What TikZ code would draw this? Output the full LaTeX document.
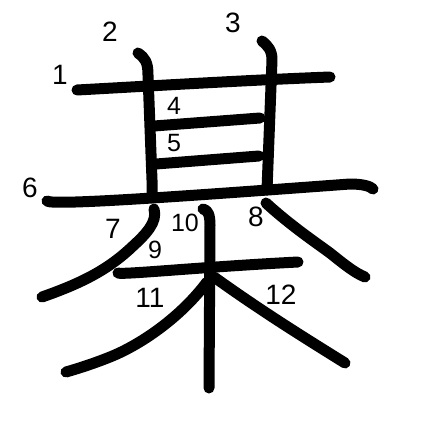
\documentclass[tikz,border=0pt]{standalone}
\usepackage{fontspec}
\setmainfont{Liberation Sans}
\begin{document}
\begin{tikzpicture}[x=1pt,y=-1pt,
  stroke/.style={line width=11pt,line cap=round,line join=round},
  num/.style={inner sep=0pt,font=\fontsize{28}{28}\selectfont},
  snum/.style={inner sep=0pt,font=\fontsize{25}{25}\selectfont}]
\useasboundingbox[fill=white] (0,0) rectangle (447,447);
% stroke coordinates
\coordinate (s1a) at (77,90);  \coordinate (s1b) at (330,77);
\coordinate (s2a) at (138,53); \coordinate (s2b) at (152,196);
\coordinate (s3a) at (262,41); \coordinate (s3b) at (267,190);
\coordinate (s4a) at (154,126); \coordinate (s4b) at (260,118);
\coordinate (s5a) at (156,164); \coordinate (s5b) at (259,156);
\coordinate (s6a) at (47,201); \coordinate (s6b) at (373,189);
\coordinate (s7a) at (154,209); \coordinate (s7b) at (42,297);
\coordinate (s8a) at (266,203); \coordinate (s8b) at (365,277);
\coordinate (s9a) at (118,273); \coordinate (s9b) at (298,262);
\coordinate (s10a) at (203,209); \coordinate (s10b) at (209,388);
\coordinate (s11a) at (207,282); \coordinate (s11b) at (66,372);
\coordinate (s12a) at (214,277); \coordinate (s12b) at (345,363);
% strokes
\draw[stroke] (s1a) .. controls (150,86) and (250,80) .. (s1b);
\draw[stroke] (s2a) .. controls (145,58) and (148,62) .. (148,75) -- (152,180) -- (s2b);
\draw[stroke] (s3a) .. controls (268,46) and (272,50) .. (272,60) -- (s3b);
\draw[stroke] (s4a) -- (s4b);
\draw[stroke] (s5a) -- (s5b);
\draw[stroke] (s6a) .. controls (52,206) and (200,195) .. (350,184) .. controls (362,184) and (370,186) .. (s6b);
\draw[stroke] (s7a) .. controls (158,222) and (145,235) .. (133,246) .. controls (110,268) and (85,282) .. (s7b);
\draw[stroke] (s8a) .. controls (290,225) and (315,242) .. (330,253) .. controls (345,265) and (355,273) .. (s8b);
\draw[stroke] (s9a) .. controls (122,275) and (200,267) .. (s9b);
\draw[stroke] (s10a) .. controls (208,210) and (210,215) .. (210,225) -- (s10b);
\draw[stroke] (s11a) .. controls (180,318) and (140,345) .. (110,357) .. controls (95,363) and (80,368) .. (s11b);
\draw[stroke] (s12a) .. controls (260,310) and (300,335) .. (s12b);
% labels
\node[num] (n1) at (60,75) {1};
\node[num] (n2) at (110,32) {2};
\node[num] (n3) at (233,23) {3};
\node[snum] (n4) at (174,106) {4};
\node[snum] (n5) at (174,143) {5};
\node[num] (n6) at (30,188) {6};
\node[num] (n7) at (113,229) {7};
\node[num] (n8) at (256,217) {8};
\node[snum] (n9) at (155,250) {9};
\node[snum] (n10) at (185,223) {10};
\node[num] (n11) at (150,298) {11};
\node[num] (n12) at (281,295) {12};
\end{tikzpicture}
\end{document}
